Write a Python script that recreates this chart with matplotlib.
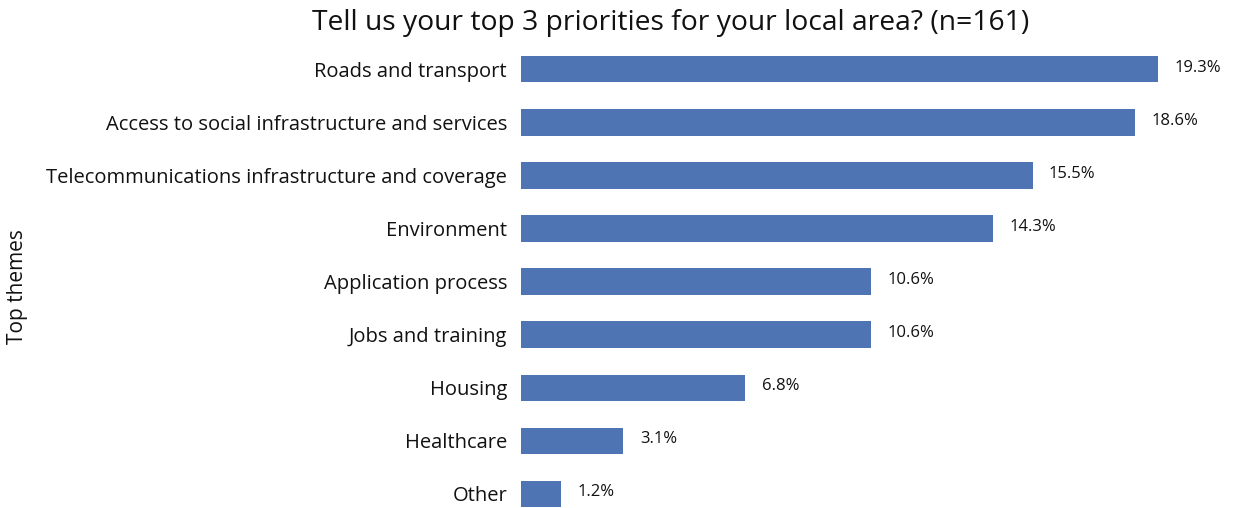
import matplotlib
matplotlib.use("Agg")
import matplotlib.pyplot as plt

# survey themes, bottom to top
themes = ["Other", "Healthcare", "Housing", "Jobs and training",
          "Application process", "Environment",
          "Telecommunications infrastructure and coverage",
          "Access to social infrastructure and services",
          "Roads and transport"]
shares = [1.2, 3.1, 6.8, 10.6, 10.6, 14.3, 15.5, 18.6, 19.3]

plt.rcParams['font.family'] = ['Open Sans', 'DejaVu Sans']

fig = plt.figure(figsize=(12.4, 5.08), dpi=100)
ax = fig.add_axes([521 / 1240, 0, 700 / 1240, 468 / 508])

bars = ax.barh(range(len(themes)), shares, height=0.5, color="#4f74b4")
for b, v in zip(bars, shares):
    ax.text(b.get_width() + 0.5, b.get_y() + b.get_height() / 2 + 0.03,
            f"{v}%", va="center", ha="left", fontsize=12, color="#111111")

ax.set_yticks(range(len(themes)))
ax.set_yticklabels(themes, fontsize=14.5, color="#111111")
ax.tick_params(axis="y", length=0, pad=10)
ax.set_xticks([])
ax.set_xlim(0, 700 / 33)
ax.set_ylim(-0.264, 8.55)
for s in ax.spines.values():
    s.set_visible(False)

fig.text(18 / 1240, 1 - 287 / 508, "Top themes", rotation=90, fontsize=15,
         ha="center", va="center", color="#111111")
fig.text(671 / 1240, 1 - 23 / 508, "Tell us your top 3 priorities for your local area? (n=161)",
         fontsize=20.3, ha="center", va="center", color="#111111")

fig.savefig("out.png", dpi=100)
